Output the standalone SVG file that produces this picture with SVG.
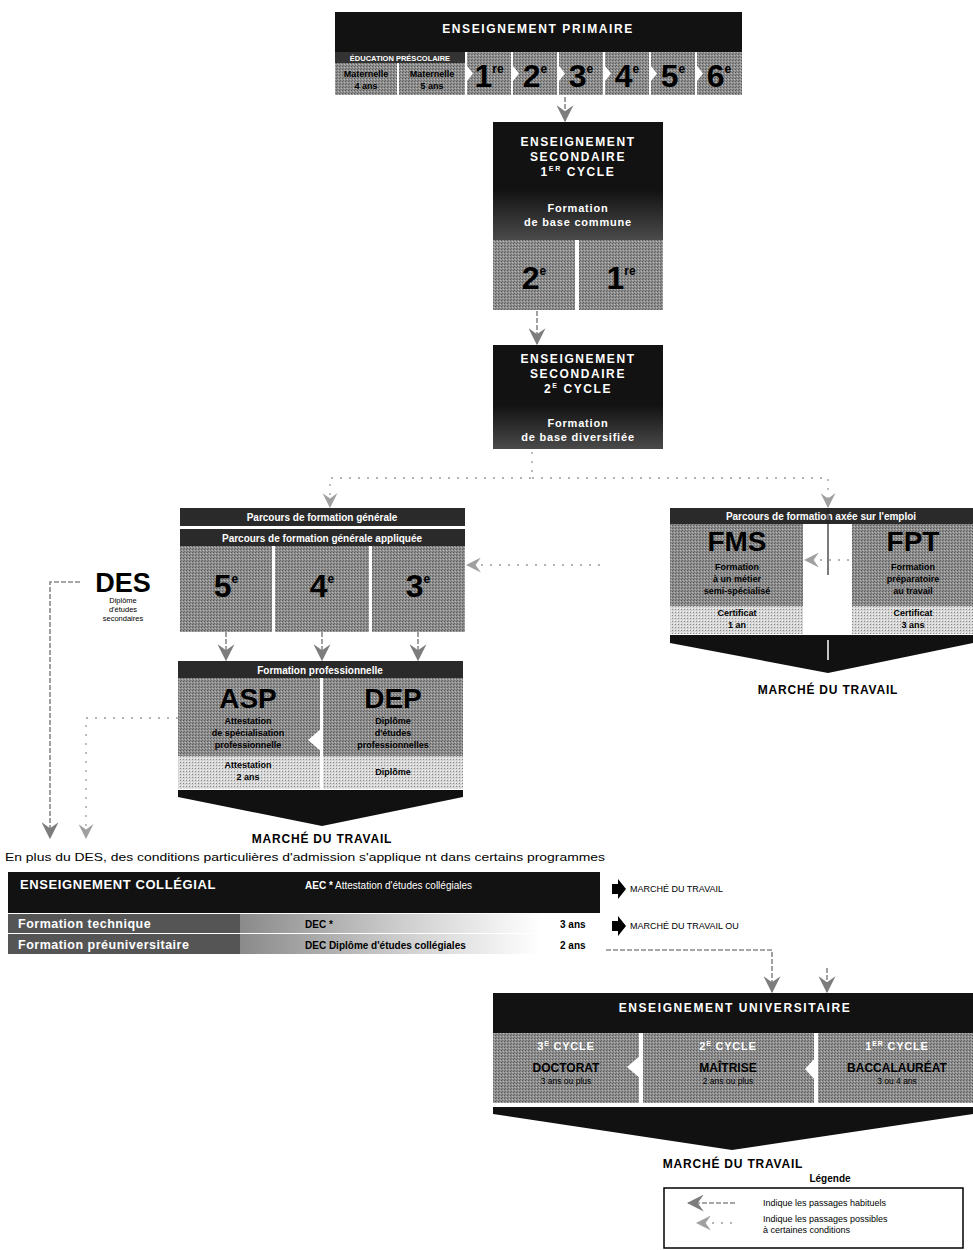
<svg xmlns="http://www.w3.org/2000/svg" width="973" height="1250" viewBox="0 0 973 1250">
<style>
text{font-family:"Liberation Sans",Arial,sans-serif}
.hd{fill:#fff;font-weight:bold;font-size:12px;letter-spacing:1.6px;text-anchor:middle}
.wh{fill:#fff;font-weight:bold;font-size:10px;text-anchor:middle}
.num{fill:#000;font-weight:bold;font-size:32px;text-anchor:middle}
.big{fill:#000;font-weight:bold;font-size:28px;text-anchor:middle}
.sm{fill:#000;font-weight:bold;font-size:9px;text-anchor:middle}
.mkt{fill:#000;font-weight:bold;font-size:12px;letter-spacing:0.8px;text-anchor:middle}
.dark{fill:#121212}
.bar{fill:#2a2a2a}
.cell{fill:url(#dith)}
.light{fill:url(#lite)}
.hab{fill:none;stroke:#8a8a8a;stroke-width:1.6;stroke-dasharray:5 2}
.cond{fill:none;stroke:#9a9a9a;stroke-width:1.3;stroke-dasharray:2 7}
.notch{fill:#fff}
.leg{fill:#000;font-size:9px}
</style>
<defs>
<pattern id="dith" width="3" height="3" patternUnits="userSpaceOnUse">
<rect width="3" height="3" fill="#8e8e8e"/>
<rect width="1" height="1" fill="#5a5a5a"/>
<rect x="2" y="1" width="1" height="1" fill="#b8b8b8"/>
<rect x="1" y="2" width="1" height="1" fill="#6a6a6a"/>
</pattern>
<pattern id="lite" width="3" height="3" patternUnits="userSpaceOnUse">
<rect width="3" height="3" fill="#d6d6d6"/>
<rect width="1" height="1" fill="#8a8a8a"/>
<rect x="2" y="2" width="1" height="1" fill="#f4f4f4"/>
</pattern>
<linearGradient id="fadeDark" x1="0" y1="0" x2="0" y2="1">
<stop offset="0" stop-color="#121212"/>
<stop offset="1" stop-color="#4a4a4a"/>
</linearGradient>
<linearGradient id="fadeRow" x1="0" y1="0" x2="1" y2="0">
<stop offset="0" stop-color="#8a8a8a"/>
<stop offset="0.55" stop-color="#cfcfcf"/>
<stop offset="1" stop-color="#ffffff"/>
</linearGradient>
<marker id="mh" viewBox="0 0 14 14" refX="13" refY="7" markerWidth="17" markerHeight="17" markerUnits="userSpaceOnUse" orient="auto">
<path d="M0,0 L14,7 L0,14 L5,7 Z" fill="#7d7d7d"/>
</marker>
<marker id="mc" viewBox="0 0 14 14" refX="13" refY="7" markerWidth="15" markerHeight="15" markerUnits="userSpaceOnUse" orient="auto">
<path d="M0,0 L14,7 L0,14 L5,7 Z" fill="#a0a0a0"/>
</marker>
</defs>
<rect width="973" height="1250" fill="#fff"/>

<g id="primaire">
<rect class="dark" x="335" y="12" width="407" height="40"/>
<text class="hd" x="538" y="33" font-size="12.5">ENSEIGNEMENT PRIMAIRE</text>
<rect fill="#333" x="335" y="52" width="130" height="11"/>
<text x="400" y="60.5" fill="#fff" font-size="7.5" text-anchor="middle" font-weight="bold">ÉDUCATION PRÉSCOLAIRE</text>
<rect class="cell" x="335" y="63" width="62" height="32"/>
<rect class="cell" x="399" y="63" width="66" height="32"/>
<text class="sm" x="366" y="77">Maternelle</text>
<text class="sm" x="366" y="89">4 ans</text>
<text class="sm" x="432" y="77">Maternelle</text>
<text class="sm" x="432" y="89">5 ans</text>
<rect class="cell" x="467" y="52" width="44" height="43"/>
<rect class="cell" x="513" y="52" width="44" height="43"/>
<rect class="cell" x="559" y="52" width="44" height="43"/>
<rect class="cell" x="605" y="52" width="44" height="43"/>
<rect class="cell" x="651" y="52" width="44" height="43"/>
<rect class="cell" x="697" y="52" width="45" height="43"/>
<path class="notch" d="M467,66 L473,73.5 L467,81 Z M513,66 L519,73.5 L513,81 Z M559,66 L565,73.5 L559,81 Z M605,66 L611,73.5 L605,81 Z M651,66 L657,73.5 L651,81 Z M697,66 L703,73.5 L697,81 Z"/>
<text class="num" x="489" y="87">1<tspan font-size="12" dy="-14">re</tspan></text>
<text class="num" x="535" y="87">2<tspan font-size="12" dy="-14">e</tspan></text>
<text class="num" x="581" y="87">3<tspan font-size="12" dy="-14">e</tspan></text>
<text class="num" x="627" y="87">4<tspan font-size="12" dy="-14">e</tspan></text>
<text class="num" x="673" y="87">5<tspan font-size="12" dy="-14">e</tspan></text>
<text class="num" x="719" y="87">6<tspan font-size="12" dy="-14">e</tspan></text>
</g>

<g id="secondaire1">
<rect class="dark" x="493" y="122" width="170" height="118"/>
<rect fill="url(#fadeDark)" x="493" y="190" width="170" height="50"/>
<text class="hd" x="578" y="146">ENSEIGNEMENT</text>
<text class="hd" x="578" y="161">SECONDAIRE</text>
<text class="hd" x="578" y="176">1<tspan font-size="7" dy="-5">ER</tspan><tspan dy="5"> CYCLE</tspan></text>
<text x="578" y="212" fill="#fff" font-size="11" font-weight="bold" text-anchor="middle" letter-spacing="0.8">Formation</text>
<text x="578" y="226" fill="#fff" font-size="11" font-weight="bold" text-anchor="middle" letter-spacing="0.8">de base commune</text>
<rect class="cell" x="493" y="240" width="82" height="70"/>
<rect class="cell" x="579" y="240" width="84" height="70"/>
<text class="num" x="534" y="289">2<tspan font-size="12" dy="-14">e</tspan></text>
<text class="num" x="621" y="289">1<tspan font-size="12" dy="-14">re</tspan></text>
</g>

<g id="secondaire2">
<rect class="dark" x="493" y="345" width="170" height="104"/>
<rect fill="url(#fadeDark)" x="493" y="405" width="170" height="44"/>
<text class="hd" x="578" y="363">ENSEIGNEMENT</text>
<text class="hd" x="578" y="378">SECONDAIRE</text>
<text class="hd" x="578" y="393">2<tspan font-size="7" dy="-5">E</tspan><tspan dy="5"> CYCLE</tspan></text>
<text x="578" y="427" fill="#fff" font-size="11" font-weight="bold" text-anchor="middle" letter-spacing="0.8">Formation</text>
<text x="578" y="441" fill="#fff" font-size="11" font-weight="bold" text-anchor="middle" letter-spacing="0.8">de base diversifiée</text>
</g>

<g id="generale">
<rect class="bar" x="180" y="508" width="285" height="18"/>
<text class="wh" x="322" y="521">Parcours de formation générale</text>
<rect class="bar" x="180" y="529" width="285" height="17"/>
<text class="wh" x="322" y="541.5">Parcours de formation générale appliquée</text>
<rect class="cell" x="180" y="546" width="92" height="86"/>
<rect class="cell" x="275" y="546" width="94" height="86"/>
<rect class="cell" x="372" y="546" width="93" height="86"/>
<text class="num" x="226" y="597">5<tspan font-size="12" dy="-14">e</tspan></text>
<text class="num" x="322" y="597">4<tspan font-size="12" dy="-14">e</tspan></text>
<text class="num" x="418" y="597">3<tspan font-size="12" dy="-14">e</tspan></text>
</g>

<g id="des">
<text x="123" y="592" font-size="27" font-weight="bold" text-anchor="middle" fill="#000">DES</text>
<text x="123" y="603" font-size="7.5" text-anchor="middle" fill="#000">Diplôme</text>
<text x="123" y="612" font-size="7.5" text-anchor="middle" fill="#000">d'études</text>
<text x="123" y="621" font-size="7.5" text-anchor="middle" fill="#000">secondaires</text>
</g>

<g id="emploi">
<rect class="bar" x="670" y="508" width="303" height="16"/>
<text class="wh" x="821" y="519.5">Parcours de formation axée sur l'emploi</text>
<rect class="cell" x="670" y="524" width="133" height="82"/>
<rect class="cell" x="852" y="524" width="121" height="82"/>
<rect class="light" x="670" y="606" width="133" height="28"/>
<rect class="light" x="852" y="606" width="121" height="28"/>
<line x1="828" y1="508" x2="828" y2="575" stroke="#222" stroke-width="1.2"/>
<text class="big" x="737" y="551">FMS</text>
<text class="sm" x="737" y="570">Formation</text>
<text class="sm" x="737" y="582">à un métier</text>
<text class="sm" x="737" y="594">semi-spécialisé</text>
<text class="sm" x="737" y="616">Certificat</text>
<text class="sm" x="737" y="628">1 an</text>
<text class="big" x="913" y="551">FPT</text>
<text class="sm" x="913" y="570">Formation</text>
<text class="sm" x="913" y="582">préparatoire</text>
<text class="sm" x="913" y="594">au travail</text>
<text class="sm" x="913" y="616">Certificat</text>
<text class="sm" x="913" y="628">3 ans</text>
<path fill="#111" d="M670,635 L973,635 L973,643 L828,673 L670,643 Z"/>
<line x1="828" y1="640" x2="828" y2="660" stroke="#fff" stroke-width="1.5"/>
<text class="mkt" x="828" y="694">MARCHÉ DU TRAVAIL</text>
</g>

<g id="professionnelle">
<rect class="bar" x="178" y="661" width="285" height="17"/>
<text class="wh" x="320" y="673.5">Formation professionnelle</text>
<rect class="cell" x="178" y="678" width="142" height="78"/>
<rect class="cell" x="323" y="678" width="140" height="78"/>
<rect class="light" x="178" y="756" width="142" height="33"/>
<rect class="light" x="323" y="756" width="140" height="33"/>
<path class="notch" d="M322,728 L308,740 L322,752 Z"/>
<text class="big" x="248" y="708">ASP</text>
<text class="sm" x="248" y="724">Attestation</text>
<text class="sm" x="248" y="736">de spécialisation</text>
<text class="sm" x="248" y="748">professionnelle</text>
<text class="sm" x="248" y="768">Attestation</text>
<text class="sm" x="248" y="780">2 ans</text>
<text class="big" x="393" y="708">DEP</text>
<text class="sm" x="393" y="724">Diplôme</text>
<text class="sm" x="393" y="736">d'études</text>
<text class="sm" x="393" y="748">professionnelles</text>
<text class="sm" x="393" y="775">Diplôme</text>
<path fill="#111" d="M178,790 L463,790 L463,797 L322,826 L178,797 Z"/>
<text class="mkt" x="322" y="843">MARCHÉ DU TRAVAIL</text>
</g>

<text id="note" x="5" y="861" font-size="10.5" fill="#000" textLength="600" lengthAdjust="spacingAndGlyphs">En plus du DES, des conditions particulières d'admission s'applique nt dans certains programmes</text>

<g id="collegial">
<rect class="dark" x="8" y="872" width="592" height="41"/>
<text x="20" y="889" fill="#fff" font-size="13" font-weight="bold" letter-spacing="0.6">ENSEIGNEMENT COLLÉGIAL</text>
<text x="305" y="889" fill="#fff" font-size="10"><tspan font-weight="bold">AEC *</tspan> Attestation d'études collégiales</text>
<rect fill="#555" x="8" y="914" width="232" height="19"/>
<rect fill="#555" x="8" y="934" width="232" height="20"/>
<rect fill="url(#fadeRow)" x="240" y="914" width="300" height="19"/>
<rect fill="url(#fadeRow)" x="240" y="934" width="300" height="20"/>
<text x="18" y="928" fill="#fff" font-size="12.5" font-weight="bold" letter-spacing="0.5">Formation technique</text>
<text x="18" y="949" fill="#fff" font-size="12.5" font-weight="bold" letter-spacing="0.5">Formation préuniversitaire</text>
<text x="305" y="928" fill="#000" font-size="10" font-weight="bold">DEC *</text>
<text x="305" y="949" fill="#000" font-size="10" font-weight="bold">DEC Diplôme d'études collégiales</text>
<text x="560" y="928" fill="#000" font-size="10" font-weight="bold">3 ans</text>
<text x="560" y="949" fill="#000" font-size="10" font-weight="bold">2 ans</text>
<path fill="#000" d="M612,884 L618,884 L618,879 L626,889 L618,899 L618,894 L612,894 Z"/>
<path fill="#000" d="M612,921 L618,921 L618,916 L626,926 L618,936 L618,931 L612,931 Z"/>
<text x="630" y="892" fill="#000" font-size="9">MARCHÉ DU TRAVAIL</text>
<text x="630" y="929" fill="#000" font-size="9">MARCHÉ DU TRAVAIL OU</text>
</g>

<g id="universitaire">
<rect class="dark" x="493" y="993" width="480" height="40"/>
<text class="hd" x="735" y="1012" font-size="12.5">ENSEIGNEMENT UNIVERSITAIRE</text>
<rect class="cell" x="493" y="1033" width="146" height="70"/>
<rect class="cell" x="643" y="1033" width="171" height="70"/>
<rect class="cell" x="818" y="1033" width="155" height="70"/>
<path class="notch" d="M641,1055 L627,1067 L641,1079 Z M816,1057 L805,1069 L816,1081 Z"/>
<text x="566" y="1050" fill="#fff" font-size="11" font-weight="bold" text-anchor="middle" letter-spacing="0.8">3<tspan font-size="7" dy="-4">E</tspan><tspan dy="4"> CYCLE</tspan></text>
<text x="566" y="1072" fill="#000" font-size="12" font-weight="bold" text-anchor="middle">DOCTORAT</text>
<text x="566" y="1084" fill="#000" font-size="8.5" text-anchor="middle">3 ans ou plus</text>
<text x="728" y="1050" fill="#fff" font-size="11" font-weight="bold" text-anchor="middle" letter-spacing="0.8">2<tspan font-size="7" dy="-4">E</tspan><tspan dy="4"> CYCLE</tspan></text>
<text x="728" y="1072" fill="#000" font-size="12" font-weight="bold" text-anchor="middle">MAÎTRISE</text>
<text x="728" y="1084" fill="#000" font-size="8.5" text-anchor="middle">2 ans ou plus</text>
<text x="897" y="1050" fill="#fff" font-size="11" font-weight="bold" text-anchor="middle" letter-spacing="0.8">1<tspan font-size="7" dy="-4">ER</tspan><tspan dy="4"> CYCLE</tspan></text>
<text x="897" y="1072" fill="#000" font-size="12" font-weight="bold" text-anchor="middle">BACCALAURÉAT</text>
<text x="897" y="1084" fill="#000" font-size="8.5" text-anchor="middle">3 ou 4 ans</text>
<path fill="#111" d="M493,1107 L973,1107 L973,1114 L732,1150 L493,1114 Z"/>
<text class="mkt" x="733" y="1168">MARCHÉ DU TRAVAIL</text>
</g>

<g id="connectors">
<line class="hab" x1="565" y1="97" x2="565" y2="121" marker-end="url(#mh)"/>
<line class="hab" x1="537" y1="311" x2="537" y2="344" marker-end="url(#mh)"/>
<polyline class="cond" points="532,452 532,478 330,478 330,507" marker-end="url(#mc)"/>
<polyline class="cond" points="532,478 828,478 828,507" marker-end="url(#mc)"/>
<line class="cond" x1="600" y1="565" x2="467" y2="565" marker-end="url(#mc)"/>
<line class="cond" x1="858" y1="560" x2="805" y2="560" marker-end="url(#mc)"/>
<polyline class="hab" points="80,582 50,582 50,838" marker-end="url(#mh)"/>
<polyline class="cond" points="178,718 86,718 86,838" marker-end="url(#mc)"/>
<line class="hab" x1="226" y1="632" x2="226" y2="660" marker-end="url(#mh)"/>
<line class="hab" x1="322" y1="632" x2="322" y2="660" marker-end="url(#mh)"/>
<line class="hab" x1="418" y1="632" x2="418" y2="660" marker-end="url(#mh)"/>
<polyline class="hab" points="606,950 772,950 772,992" marker-end="url(#mh)"/>
<line class="hab" x1="827" y1="968" x2="827" y2="992" marker-end="url(#mh)"/>
</g>

<g id="legende">
<text x="830" y="1182" fill="#000" font-size="10" font-weight="bold" text-anchor="middle">Légende</text>
<rect x="664" y="1188" width="299" height="60" fill="none" stroke="#000" stroke-width="1.5"/>
<line class="hab" x1="735" y1="1203" x2="688" y2="1203" marker-end="url(#mh)"/>
<line class="cond" x1="732" y1="1223" x2="697" y2="1223" marker-end="url(#mc)"/>
<text class="leg" x="763" y="1206">Indique les passages habituels</text>
<text class="leg" x="763" y="1222">Indique les passages possibles</text>
<text class="leg" x="763" y="1233">à certaines conditions</text>
</g>
</svg>
